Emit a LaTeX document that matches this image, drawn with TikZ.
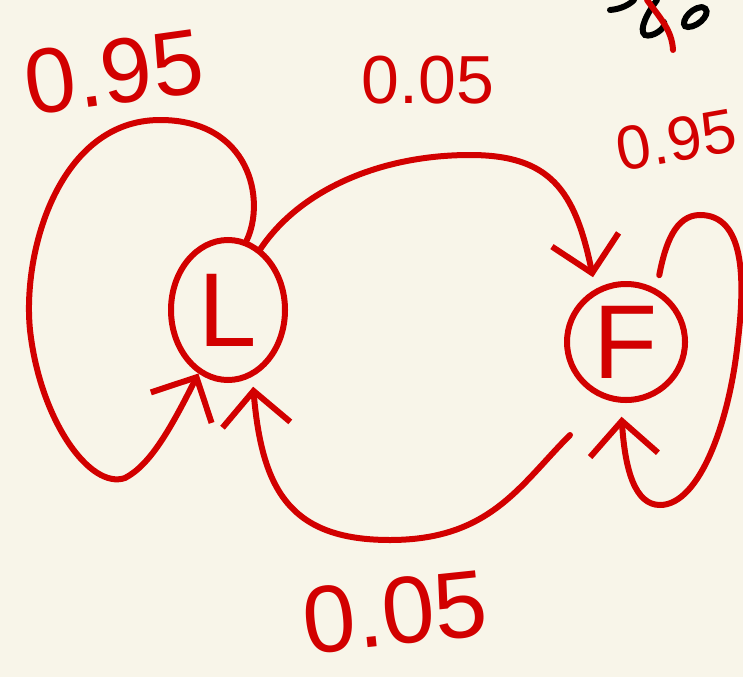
\documentclass[tikz,border=0pt]{standalone}
\usepackage{fontspec}
\setmainfont{Liberation Sans}
\usetikzlibrary{shapes.geometric,arrows.meta}
\definecolor{bgc}{RGB}{248,245,233}
\definecolor{ink}{RGB}{210,0,0}
\tikzset{
  state/.style={draw=ink, line width=6pt, ellipse, inner sep=0pt, text=ink, font=\fontsize{105}{105}\selectfont},
  edge/.style={draw=ink, line width=6pt, line cap=round, -{Straight Barb[length=34pt,width=68pt,line width=6pt]}},
  prob/.style={text=ink, inner sep=0pt},
  scribble/.style={line width=6pt, line cap=round}
}
\begin{document}
\begin{tikzpicture}[x=1pt,y=-1pt]
\fill[bgc] (0,0) rectangle (743,677);
\useasboundingbox (0,0) rectangle (743,677);

\node[state, minimum width=114pt, minimum height=140pt] (L) at (228,310) {L};
\node[state, minimum width=118pt, minimum height=116pt] (F) at (626,342) {F};

% L self loop
\draw[edge] (L.75) .. controls (266,200) and (250,120) .. (160,120)
  .. controls (60,120) and (22,250) .. (30,330)
  .. controls (40,420) and (90,490) .. (125,478)
  .. controls (150,465) and (170,430) .. (L.245);

% L -> F
\draw[edge, shorten >=12pt] (L.62) .. controls (300,190) and (380,155) .. (470,155)
  .. controls (550,155) and (575,190) .. (F.120);

% F self loop
\draw[edge, shorten <=14pt, shorten >=14pt] (F.60) .. controls (665,245) and (675,215) .. (700,215)
  .. controls (745,215) and (745,280) .. (738,340)
  .. controls (730,420) and (700,505) .. (660,505)
  .. controls (635,505) and (625,470) .. (F.265);

% F -> L
\coordinate (fs) at (570,435);
\draw[edge, shorten >=10pt] (fs) .. controls (520,485) and (490,540) .. (390,540)
  .. controls (290,540) and (262,490) .. (L.290);

% labels
\node[prob, font=\fontsize{92}{92}\selectfont, rotate=8] (p1) at (114,72) {0.95};
\node[prob, font=\fontsize{68}{68}\selectfont] (p2) at (428,80) {0.05};
\node[prob, font=\fontsize{62}{62}\selectfont, rotate=10] (p3) at (676,140) {0.95};
\node[prob, font=\fontsize{95}{95}\selectfont, rotate=6] (p4) at (395,612) {0.05};

% crossed-out scribble, top right
\draw[scribble, black] (610,10) .. controls (622,9) and (630,4) .. (634,0);
\draw[scribble, black] (657,0) .. controls (648,12) and (638,30) .. (645,35)
  .. controls (652,38) and (667,28) .. (664,22);
\draw[scribble, black] (702,7) .. controls (688,8) and (678,27) .. (688,27)
  .. controls (700,27) and (714,10) .. (702,7);
\draw[scribble, ink] (647,0) .. controls (660,18) and (672,30) .. (673,50);
\end{tikzpicture}
\end{document}
